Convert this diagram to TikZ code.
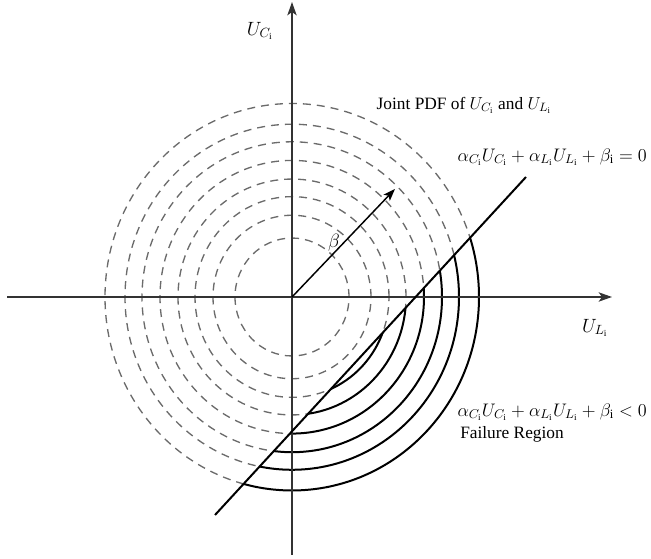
\RequirePackage{fix-cm}
\documentclass[tikz,border=0pt]{standalone}
\usepackage{fontspec}
\setmainfont{Liberation Serif}
\usetikzlibrary{arrows.meta}
\begin{document}
\begin{tikzpicture}[x=0.75pt,y=-0.75pt,
  axisline/.style={draw=black!80, line width=1.1pt, -{Stealth[length=10pt,width=7pt,inset=2.5pt]}},
  limitline/.style={draw=black, line width=1.5pt},
  betaarrow/.style={draw=black, line width=1.1pt, -{Stealth[length=9pt,width=6.5pt,inset=2pt]}},
  pdfdash/.style={draw=black!58, line width=1pt, dash pattern=on 6pt off 4.5pt},
  pdfsolid/.style={draw=black, line width=1.5pt},
  lbl/.style={font=\fontsize{13}{15}\selectfont, inner sep=0pt},
  eqlbl/.style={font=\fontsize{13.6}{16}\selectfont, inner sep=0pt},
  axlbl/.style={font=\fontsize{14.4}{17}\selectfont, inner sep=0pt}]
\useasboundingbox (0,0) rectangle (651,559);
% key points
\coordinate (O) at (292,297);
\coordinate (xs) at (7,297);
\coordinate (xe) at (612,297);
\coordinate (ys) at (292,555);
\coordinate (ye) at (292,2);
\coordinate (L1) at (215,515);
\coordinate (L2) at (526,177);
\coordinate (B) at (395,189);
% far points of the limit line (for clipping)
\coordinate (FA) at (-718,1529);
\coordinate (FB) at (1459,-837);
% dashed contours on the safe side
\begin{scope}
  \clip (FA) -- (FB) -- (-718,-837) -- cycle;
  \foreach \r in {57,79,97,114,132,150,167,187}
    \draw[pdfdash] (O) ellipse [x radius=\r*0.75pt, y radius=\r*0.776pt];
\end{scope}
% solid contours in the failure region
\begin{scope}
  \clip (FA) -- (FB) -- (1459,1529) -- cycle;
  \foreach \r in {97,114,132,150,167,187}
    \draw[pdfsolid] (O) ellipse [x radius=\r*0.75pt, y radius=\r*0.776pt];
\end{scope}
% axes
\draw[axisline] (xs) -- (xe);
\draw[axisline] (ys) -- (ye);
% limit state line
\draw[limitline] (L1) -- (L2);
% beta arrow
\draw[betaarrow] (O) -- (B);
% labels
\node[axlbl] (uc) at (260,31) {$U_{C_\mathrm{i}}$};
\node[axlbl] (ul) at (595,328) {$U_{L_\mathrm{i}}$};
\node[axlbl] (beta) at (334,243) {$\beta$};
\node[lbl] (joint) at (464,105) {Joint PDF of $U_{C_\mathrm{i}}$ and $U_{L_\mathrm{i}}$};
\node[eqlbl, anchor=east] (eqz) at (647,157) {$\alpha_{C_\mathrm{i}}U_{C_\mathrm{i}}+\alpha_{L_\mathrm{i}}U_{L_\mathrm{i}}+\beta_\mathrm{i}=0$};
\node[eqlbl, anchor=east] (eqf) at (647,412) {$\alpha_{C_\mathrm{i}}U_{C_\mathrm{i}}+\alpha_{L_\mathrm{i}}U_{L_\mathrm{i}}+\beta_\mathrm{i}<0$};
\node[lbl, anchor=west] (fr) at (460,434) {Failure Region};
\end{tikzpicture}
\end{document}
